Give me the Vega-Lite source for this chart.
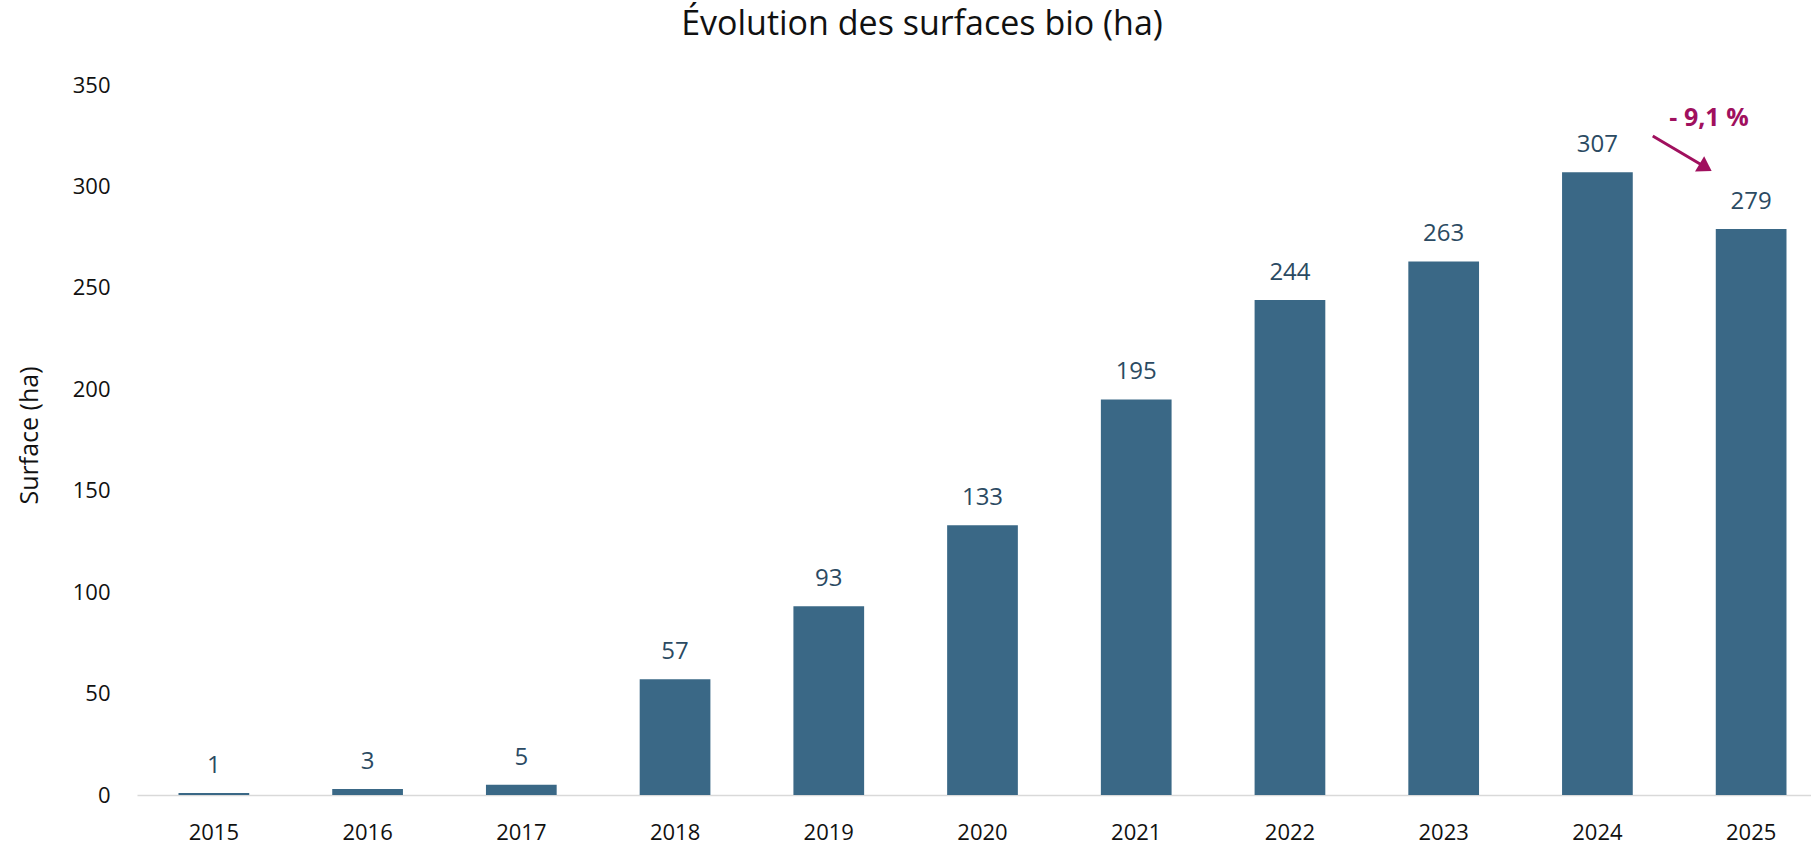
{
  "$schema": "https://vega.github.io/schema/vega-lite/v6.json",
  "autosize": "none",
  "width": 1674,
  "height": 710,
  "padding": {"left": 137, "top": 85, "right": 0, "bottom": 51},
  "background": "white",
  "config": {"view": {"stroke": null}, "font": "Open Sans"},
  "title": {"text": "Évolution des surfaces bio (ha)", "font": "Open Sans", "fontSize": 34, "fontWeight": "normal", "color": "#111111", "anchor": "middle", "frame": "group", "dx": -52, "baseline": "alphabetic", "offset": 5},
  "datasets": {
    "bars": [
      {"annee": "2015", "surface": 1},
      {"annee": "2016", "surface": 3},
      {"annee": "2017", "surface": 5},
      {"annee": "2018", "surface": 57},
      {"annee": "2019", "surface": 93},
      {"annee": "2020", "surface": 133},
      {"annee": "2021", "surface": 195},
      {"annee": "2022", "surface": 244},
      {"annee": "2023", "surface": 263},
      {"annee": "2024", "surface": 307},
      {"annee": "2025", "surface": 279}
    ],
    "arrow": [
      {"px": 9.86, "py": 324.9, "px2": 10.19, "py2": 310.1}
    ],
    "head": [
      {"px": 10.243, "py": 307.6}
    ],
    "note": [
      {"px": 10.226, "py": 333.8, "label": "- 9,1 %"}
    ]
  },
  "layer": [
    {
      "data": {"name": "bars"},
      "layer": [
        {
          "mark": {"type": "bar", "color": "#3a6886"},
          "encoding": {
            "x": {"field": "annee", "type": "ordinal", "scale": {"range": [0, 1691], "paddingInner": 0.54, "paddingOuter": 0.27},
              "axis": {"title": null, "labelFont": "Open Sans", "labelFontSize": 22, "labelColor": "#111111", "labelAngle": 0, "ticks": false, "tickSize": 0, "labelPadding": 37, "labelBaseline": "middle", "domainColor": "#d9d9d9", "domainWidth": 1.5, "grid": false}},
            "y": {"field": "surface", "type": "quantitative", "scale": {"domain": [0, 350], "nice": false},
              "axis": {"title": "Surface (ha)", "titleFont": "Open Sans", "titleFontSize": 25, "titleFontWeight": "normal", "titleColor": "#111111", "titleX": -108, "titleY": 350, "titleAngle": -90, "titleAlign": "center", "titleBaseline": "middle",
                "values": [0, 50, 100, 150, 200, 250, 300, 350], "labelFont": "Open Sans", "labelFontSize": 22, "labelColor": "#111111", "labelPadding": 27, "labelBaseline": "middle", "ticks": false, "tickSize": 0, "domain": false, "grid": false}}
          }
        },
        {
          "mark": {"type": "text", "dy": -27, "baseline": "middle", "align": "center", "font": "Open Sans", "fontSize": 24, "color": "#2b4a62"},
          "encoding": {
            "x": {"field": "annee", "type": "ordinal"},
            "y": {"field": "surface", "type": "quantitative"},
            "text": {"field": "surface", "type": "quantitative", "format": "d"}
          }
        }
      ]
    },
    {
      "layer": [
        {
          "data": {"name": "arrow"},
          "mark": {"type": "rule", "color": "#a0105e", "strokeWidth": 3},
          "encoding": {
            "x": {"field": "px", "type": "quantitative", "scale": {"domain": [0, 11], "range": [0, 1691]}, "axis": null},
            "x2": {"field": "px2"},
            "y": {"field": "py", "type": "quantitative"},
            "y2": {"field": "py2"}
          }
        },
        {
          "data": {"name": "head"},
          "mark": {"type": "point", "shape": "M0,0L-1,-0.64L-1,0.64Z", "filled": true, "color": "#a0105e", "opacity": 1, "size": 784, "angle": 30.7, "strokeWidth": 0},
          "encoding": {
            "x": {"field": "px", "type": "quantitative"},
            "y": {"field": "py", "type": "quantitative"}
          }
        },
        {
          "data": {"name": "note"},
          "mark": {"type": "text", "baseline": "middle", "align": "center", "font": "Open Sans", "fontSize": 25, "fontWeight": "bold", "color": "#a0105e"},
          "encoding": {
            "x": {"field": "px", "type": "quantitative"},
            "y": {"field": "py", "type": "quantitative"},
            "text": {"field": "label"}
          }
        }
      ]
    }
  ],
  "resolve": {"scale": {"x": "independent"}, "axis": {"x": "independent"}}
}
